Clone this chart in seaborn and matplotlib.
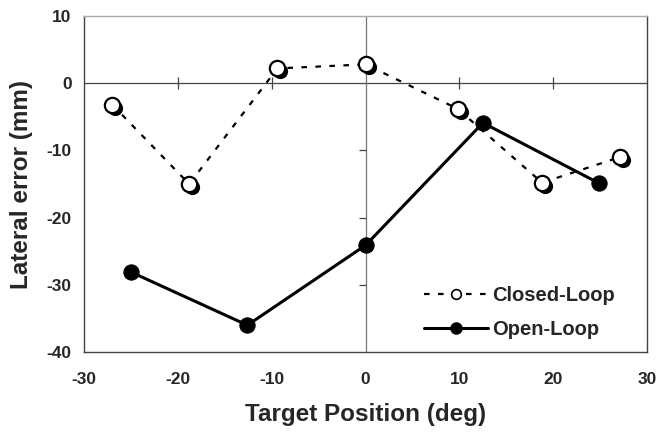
import matplotlib
matplotlib.use("Agg")
import matplotlib.pyplot as plt
import matplotlib.transforms as mtransforms
from matplotlib.lines import Line2D
import seaborn as sns
import numpy as np

# data
closed_x = [-27.0, -18.8, -9.4, 0.0, 9.8, 18.8, 27.1]
closed_y = [-3.2, -15.0, 2.2, 2.8, -3.8, -14.8, -11.0]
open_x = [-25.0, -12.6, 0.0, 12.5, 24.9]
open_y = [-28.1, -36.0, -24.1, -5.9, -14.9]

x_ticks = [-30, -20, -10, 0, 10, 20, 30]
y_ticks = [-40, -30, -20, -10, 0, 10]

sns.set_style("white")
plt.rcParams["font.family"] = ["Liberation Sans", "DejaVu Sans"]
plt.rcParams["font.weight"] = "bold"
plt.rcParams["axes.unicode_minus"] = False

fig, ax = plt.subplots(figsize=(6.57, 4.32), dpi=100)
fig.subplots_adjust(left=0.128, right=0.985, top=0.963, bottom=0.185)

# zero axes (Excel style) with their tick marks
ax.axhline(0, color="#444444", lw=0.9, zorder=1)
ax.axvline(0, color="#777777", lw=0.9, zorder=1)
xt_inner = [t for t in x_ticks if t not in (-30, 0, 30)]
yt_inner = [t for t in y_ticks if t not in (-40, 0, 10)]
ax.plot(xt_inner, np.zeros(len(xt_inner)), ls="", marker="|", ms=8,
        mew=0.9, color="#444444", zorder=1)
ax.plot(np.zeros(len(yt_inner)), yt_inner, ls="", marker=0, ms=5,
        mew=0.9, color="#444444", zorder=1)

# shadow behind the closed-loop circles
shadow = ax.transData + mtransforms.ScaledTranslation(2.2 / 72, -2.2 / 72,
                                                      fig.dpi_scale_trans)
sns.scatterplot(x=closed_x, y=closed_y, color="black", s=120, linewidth=0,
                transform=shadow, zorder=3, ax=ax, legend=False)

sns.lineplot(x=closed_x, y=closed_y, color="black", lw=1.6, marker="o",
             markersize=11, markerfacecolor="white", markeredgecolor="black",
             markeredgewidth=1.6, zorder=4, ax=ax, sort=False)
ax.lines[-1].set_dashes([2.5, 3.8])

sns.lineplot(x=open_x, y=open_y, color="black", lw=2.2, marker="o",
             markersize=11, markerfacecolor="black", markeredgecolor="black",
             zorder=5, ax=ax, sort=False)

ax.set_xlim(-30, 30)
ax.set_ylim(-40, 10)
ax.set_xticks(x_ticks)
ax.set_yticks(y_ticks)
ax.tick_params(length=0, labelsize=12.5)
ax.tick_params(axis="x", pad=14)
ax.tick_params(axis="y", pad=9)
for lab in ax.get_xticklabels() + ax.get_yticklabels():
    lab.set_fontweight("bold")

for side in ["left", "bottom", "right"]:
    ax.spines[side].set_color("#444444")
    ax.spines[side].set_linewidth(1.0)
ax.spines["top"].set_color("#aaaaaa")
ax.spines["top"].set_linewidth(1.0)

ax.set_xlabel("Target Position (deg)", fontsize=17.5, fontweight="bold",
              labelpad=12)
ax.set_ylabel("Lateral error (mm)", fontsize=17.5, fontweight="bold",
              labelpad=10)

handles = [
    Line2D([], [], color="black", lw=1.6, ls=(0, (2.5, 3.8)), marker="o",
           markersize=7, markerfacecolor="white", markeredgecolor="black",
           markeredgewidth=1.2, label="Closed-Loop"),
    Line2D([], [], color="black", lw=2.2, marker="o", markersize=8,
           markerfacecolor="black", label="Open-Loop"),
]
ax.legend(handles=handles, loc="lower right", bbox_to_anchor=(0.975, -0.015),
          frameon=False, handlelength=3.2, handletextpad=0.2,
          labelspacing=0.75, prop={"weight": "bold", "size": 14.5})

fig.savefig("out.png", dpi=100)
